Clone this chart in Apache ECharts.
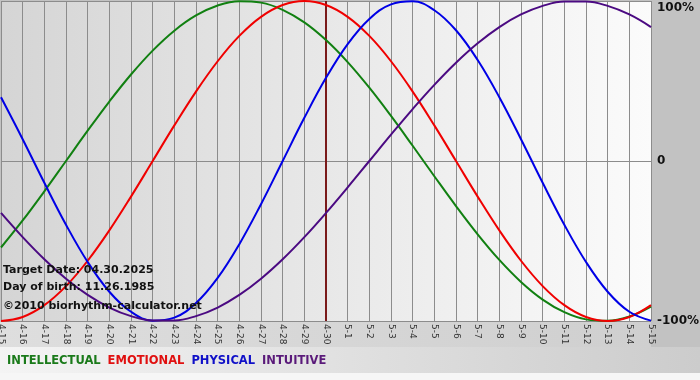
<!DOCTYPE html>
<html>
<head>
<meta charset="utf-8">
<script src="https://cdn.jsdelivr.net/npm/echarts@6/dist/echarts.min.js"></script>
<style>html,body{margin:0;padding:0;background:#fff;}#c{width:700px;height:380px;}</style>
</head>
<body>
<div id="c"></div>
<script>
var dates = ['4-15','4-16','4-17','4-18','4-19','4-20','4-21','4-22','4-23','4-24','4-25','4-26','4-27','4-28','4-29','4-30','5-1','5-2','5-3','5-4','5-5','5-6','5-7','5-8','5-9','5-10','5-11','5-12','5-13','5-14','5-15'];
var intellectual = [-0.5406,-0.3717,-0.1893,0,0.1893,0.3717,0.5406,0.6901,0.8146,0.9096,0.9718,0.9989,0.9898,0.9450,0.8660,0.7557,0.6182,0.4582,0.2817,0.0951,-0.0951,-0.2817,-0.4582,-0.6182,-0.7557,-0.8660,-0.9450,-0.9898,-0.9989,-0.9718,-0.9096];
var emotional = [-1,-0.9749,-0.9010,-0.7818,-0.6235,-0.4339,-0.2225,0,0.2225,0.4339,0.6235,0.7818,0.9010,0.9749,1,0.9749,0.9010,0.7818,0.6235,0.4339,0.2225,0,-0.2225,-0.4339,-0.6235,-0.7818,-0.9010,-0.9749,-1,-0.9749,-0.9010];
var physical = [0.3984,0.1362,-0.1362,-0.3984,-0.6311,-0.8170,-0.9423,-0.9977,-0.9791,-0.8879,-0.7308,-0.5196,-0.2698,0,0.2698,0.5196,0.7308,0.8879,0.9791,0.9977,0.9423,0.8170,0.6311,0.3984,0.1362,-0.1362,-0.3984,-0.6311,-0.8170,-0.9423,-0.9977];
var intuitive = [-0.3247,-0.4759,-0.6142,-0.7357,-0.8372,-0.9158,-0.9694,-0.9966,-0.9966,-0.9694,-0.9158,-0.8372,-0.7357,-0.6142,-0.4759,-0.3247,-0.1646,0,0.1646,0.3247,0.4759,0.6142,0.7357,0.8372,0.9158,0.9694,0.9966,0.9966,0.9694,0.9158,0.8372];
var targetDate = '4-30';
var infoLines = ['Target Date: 04.30.2025', 'Day of birth: 11.26.1985', '\u00a92010 biorhythm-calculator.net'];
var seriesNames = ['INTELLECTUAL','EMOTIONAL','PHYSICAL','INTUITIVE'];
var colors = ['#118011','#f00000','#0000e6','#4b0a82'];
var legendColors = ['#1a7a1a','#e01010','#1010c8','#5a1a7a'];

var chart = echarts.init(document.getElementById('c'), null, {renderer:'canvas'});
var FONT = '"DejaVu Sans", Verdana, sans-serif';
var values = [intellectual, emotional, physical, intuitive];
var series = seriesNames.map(function(n, i){
  return {
    name: n, type: 'line', data: values[i], smooth: 0.4, symbol: 'none',
    lineStyle: {color: colors[i], width: 2}, itemStyle: {color: colors[i]}, z: 3
  };
});
series[0].markLine = {
  silent: true, symbol: 'none', label: {show: false},
  lineStyle: {color: '#7a1a1a', width: 2, type: 'solid'},
  data: [{xAxis: targetDate}], z: 2
};
var option = {
  animation: false,
  backgroundColor: '#c2c2c2',
  textStyle: {fontFamily: FONT},
  grid: {
    left: 1, right: 49, top: 1, bottom: 59, show: true, borderWidth: 0,
    outerBoundsMode: 'none', containLabel: false,
    backgroundColor: new echarts.graphic.LinearGradient(0, 0, 1, 0, [
      {offset: 0, color: '#d5d5d5'}, {offset: 1, color: '#fbfbfb'}
    ])
  },
  legend: {
    left: 2, top: 355, padding: 0, icon: 'none', itemWidth: 0, itemHeight: 10, itemGap: 2,
    selectedMode: false,
    data: seriesNames.map(function(n, i){
      return {name: n, textStyle: {color: legendColors[i], fontWeight: 'bold', fontSize: 11.5, fontFamily: FONT}};
    })
  },
  xAxis: {
    type: 'category', data: dates, boundaryGap: false,
    axisLine: {show: false}, axisTick: {show: false},
    splitLine: {show: true, interval: 0, lineStyle: {color: '#8c8c8c', width: 1}},
    axisLabel: {interval: 0, rotate: -90, fontSize: 9, margin: 3, color: '#333', fontFamily: FONT}
  },
  yAxis: {
    type: 'value', min: -1, max: 1, interval: 1, position: 'right',
    axisLine: {show: false}, axisTick: {show: false},
    splitLine: {show: true, lineStyle: {color: '#8c8c8c', width: 1}},
    axisLabel: {
      margin: 6, color: '#111', fontWeight: 'bold', fontSize: 12, fontFamily: FONT,
      formatter: function(v){ return v === 1 ? '{t|100%}' : (v === 0 ? '0' : '-100%'); },
      rich: {t: {padding: [14, 0, 0, 0], fontWeight: 'bold', fontSize: 12, color: '#111', fontFamily: FONT}}
    }
  },
  graphic: [
    {type: 'rect', z: -10, silent: true, shape: {x: 0, y: 322, width: 651, height: 25},
     style: {fill: new echarts.graphic.LinearGradient(0, 0, 1, 0, [{offset: 0, color: '#dedede'}, {offset: 1, color: '#cfcfcf'}])}},
    {type: 'rect', z: -10, silent: true, shape: {x: 0, y: 347, width: 700, height: 26},
     style: {fill: new echarts.graphic.LinearGradient(0, 0, 1, 0, [{offset: 0, color: '#f4f4f4'}, {offset: 1, color: '#cccccc'}])}},
    {type: 'rect', z: -10, silent: true, shape: {x: 0, y: 373, width: 700, height: 7},
     style: {fill: '#f6f6f6'}},
    {type: 'text', z: 100, silent: true, left: 3, top: 265, style: {text: infoLines[0], fill: '#111', font: 'bold 11px ' + FONT}},
    {type: 'text', z: 100, silent: true, left: 3, top: 282, style: {text: infoLines[1], fill: '#111', font: 'bold 11px ' + FONT}},
    {type: 'text', z: 100, silent: true, left: 3, top: 301, style: {text: infoLines[2], fill: '#111', font: 'bold 11px ' + FONT}}
  ],
  series: series
};
chart.setOption(option);
</script>
</body>
</html>
